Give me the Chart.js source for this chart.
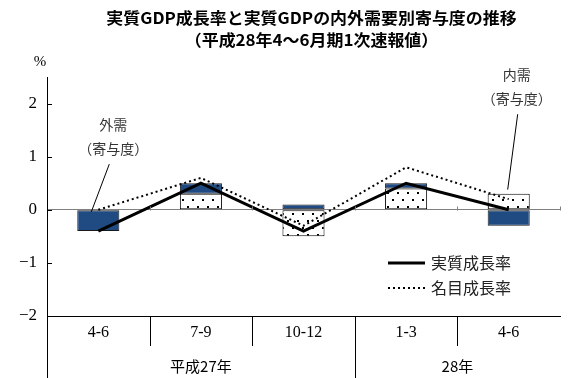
<!DOCTYPE html>
<html lang="ja">
<head>
<meta charset="utf-8">
<title>実質GDP成長率と実質GDPの内外需要別寄与度の推移</title>
<script src="https://cdn.jsdelivr.net/npm/chart.js@4.4.1/dist/chart.umd.min.js"></script>
<style>
  html, body { margin: 0; padding: 0; background: #fff; }
  #wrap { width: 571px; height: 378px; }
</style>
</head>
<body>
<div id="wrap"><canvas id="myChart" width="571" height="378"></canvas></div>
<script>
const quarters = ['4-6', '7-9', '10-12', '1-3', '4-6'];
const years = ['平成27年', '28年'];
const yearSpans = [3, 2];
const domestic = [0.0, 0.3, -0.5, 0.4, 0.3];
const external = [-0.4, 0.2, 0.1, 0.1, -0.3];
const realGrowth = [-0.4, 0.5, -0.4, 0.5, 0.0];
const nominalGrowth = [0.0, 0.6, -0.3, 0.8, 0.2];
const titleLines = ['実質GDP成長率と実質GDPの内外需要別寄与度の推移', '（平成28年4～6月期1次速報値）'];

const SERIF = '"Liberation Serif", "DejaVu Serif", serif';
const JP = '"Noto Sans CJK JP", sans-serif';
const BLUE = '#1F4A82';

// dotted fill for domestic demand
function dotPattern() {
  const c = document.createElement('canvas');
  c.width = 10; c.height = 14;
  const g = c.getContext('2d');
  g.fillStyle = '#fff';
  g.fillRect(0, 0, 10, 14);
  g.fillStyle = '#000';
  g.fillRect(2, 3, 2, 2);
  g.fillRect(7, 10, 2, 2);
  return g.createPattern(c, 'repeat');
}

// callout labels, anchored on a category and a value
const callouts = [
  {lines: ['外需', '（寄与度）'], index: 0, textDx: 15, textVals: [1.6, 1.15], fromVal: 0.86, fromDx: 11, toVal: -0.04, toDx: -7},
  {lines: ['内需', '（寄与度）'], index: 4, textDx: 8, textVals: [2.54, 2.1], fromVal: 1.8, fromDx: 9, toVal: 0.38, toDx: -1}
];

const decor = {
  id: 'decor',
  afterDraw(chart) {
    const {ctx, chartArea: a, scales: {x, y}} = chart;
    ctx.save();

    // title
    ctx.fillStyle = '#000';
    ctx.textAlign = 'center';
    ctx.textBaseline = 'middle';
    ctx.font = 'bold 16px ' + JP;
    titleLines.forEach((t, i) => {
      ctx.save();
      ctx.translate((a.left + a.right) / 2 + 8, 18 + i * 22);
      ctx.scale(1.06, 1);
      ctx.fillText(t, 0, 0);
      ctx.restore();
    });

    // unit
    ctx.font = '15px ' + SERIF;
    ctx.fillText('%', a.left - 7, a.top - 15);

    ctx.strokeStyle = '#000';
    ctx.lineWidth = 1;
    // y axis continues through the label rows
    ctx.beginPath();
    ctx.moveTo(a.left + 0.5, a.bottom);
    ctx.lineTo(a.left + 0.5, chart.height);
    ctx.stroke();

    // inner y ticks
    y.ticks.forEach(t => {
      const py = Math.round(y.getPixelForValue(t.value)) + 0.5;
      ctx.beginPath();
      ctx.moveTo(a.left, py);
      ctx.lineTo(a.left + 5, py);
      ctx.stroke();
    });

    // category dividers
    const y0 = Math.round(y.getPixelForValue(0)) + 0.5;
    const groupEnds = [];
    yearSpans.reduce((s, n) => { groupEnds.push(s + n); return s + n; }, 0);
    for (let i = 1; i <= quarters.length; i++) {
      const bx = Math.round(i < quarters.length
        ? (x.getPixelForValue(i - 1) + x.getPixelForValue(i)) / 2
        : a.right) + 0.5;
      ctx.strokeStyle = '#808080';
      ctx.beginPath();
      ctx.moveTo(bx, y0);
      ctx.lineTo(bx, y0 - 4);
      ctx.stroke();
      if (i < quarters.length) {
        ctx.strokeStyle = '#000';
        ctx.beginPath();
        ctx.moveTo(bx, a.bottom);
        ctx.lineTo(bx, groupEnds.includes(i) ? chart.height : a.bottom + 30);
        ctx.stroke();
      }
    }

    // year labels
    ctx.fillStyle = '#000';
    ctx.font = '15px ' + JP;
    let start = 0;
    years.forEach((label, i) => {
      const end = start + yearSpans[i] - 1;
      const cx = (x.getPixelForValue(start) + x.getPixelForValue(end)) / 2;
      ctx.fillText(label, cx, a.bottom + 50);
      start = end + 1;
    });

    // callouts
    ctx.font = '14px ' + JP;
    ctx.fillStyle = '#333';
    callouts.forEach(c => {
      const cx = x.getPixelForValue(c.index);
      c.lines.forEach((l, i) => ctx.fillText(l, cx + c.textDx, y.getPixelForValue(c.textVals[i])));
      ctx.strokeStyle = '#000';
      ctx.beginPath();
      ctx.moveTo(cx + c.fromDx, y.getPixelForValue(c.fromVal));
      ctx.lineTo(cx + c.toDx, y.getPixelForValue(c.toVal));
      ctx.stroke();
    });

    // legend for the two lines
    ctx.textAlign = 'left';
    ctx.font = '16px ' + JP;
    ctx.fillStyle = '#222';
    chart.data.datasets.filter(d => d.type === 'line').forEach((d, i) => {
      const ly = 263 + i * 25;
      ctx.strokeStyle = d.borderColor;
      ctx.lineWidth = d.borderWidth;
      ctx.setLineDash(d.borderDash || []);
      ctx.beginPath();
      ctx.moveTo(388, ly);
      ctx.lineTo(425, ly);
      ctx.stroke();
      ctx.setLineDash([]);
      ctx.fillText(d.label, 431, ly);
    });

    ctx.restore();
  }
};

const config = {
  data: {
    labels: quarters,
    datasets: [
      {
        type: 'line',
        label: '実質成長率',
        data: realGrowth,
        borderColor: '#000',
        borderWidth: 3,
        pointRadius: 0,
        tension: 0,
        stack: 'real',
        order: 1
      },
      {
        type: 'line',
        label: '名目成長率',
        data: nominalGrowth,
        borderColor: '#000',
        borderWidth: 2,
        borderDash: [2, 3],
        pointRadius: 0,
        tension: 0,
        stack: 'nominal',
        order: 1
      },
      {
        type: 'bar',
        label: '内需（寄与度）',
        data: domestic,
        backgroundColor: dotPattern(),
        borderColor: '#000',
        borderWidth: 1,
        borderSkipped: false,
        stack: 'c',
        order: 2
      },
      {
        type: 'bar',
        label: '外需（寄与度）',
        data: external,
        backgroundColor: BLUE,
        borderColor: '#1a1a1a',
        borderWidth: 1,
        borderSkipped: false,
        stack: 'c',
        order: 2
      }
    ]
  },
  options: {
    responsive: false,
    animation: false,
    layout: {padding: {top: 77, right: 11, left: 0, bottom: 0}},
    datasets: {bar: {categoryPercentage: 1, barPercentage: 0.41}},
    plugins: {
      legend: {display: false},
      title: {display: false},
      tooltip: {enabled: false}
    },
    scales: {
      x: {
        stacked: true,
        grid: {display: false, drawTicks: false},
        border: {display: true, color: '#000', width: 1},
        ticks: {color: '#000', padding: 7, font: {family: SERIF, size: 16}, maxRotation: 0},
        afterFit(s) { s.height = 62; }
      },
      y: {
        stacked: true,
        min: -2,
        max: 2.5,
        grid: {
          drawTicks: false,
          color: c => c.tick && c.tick.value === 0 ? '#808080' : 'rgba(0,0,0,0)'
        },
        border: {display: true, color: '#000', width: 1},
        afterBuildTicks(s) { s.ticks = s.ticks.filter(t => Number.isInteger(t.value)); },
        ticks: {
          stepSize: 1,
          color: '#000',
          padding: 10,
          font: {family: SERIF, size: 17},
          callback: v => String(v).replace('-', '−')
        },
        afterFit(s) { s.width = 47; }
      }
    }
  },
  plugins: [decor]
};

var myChart = new Chart(document.getElementById('myChart'), config);
</script>
</body>
</html>
